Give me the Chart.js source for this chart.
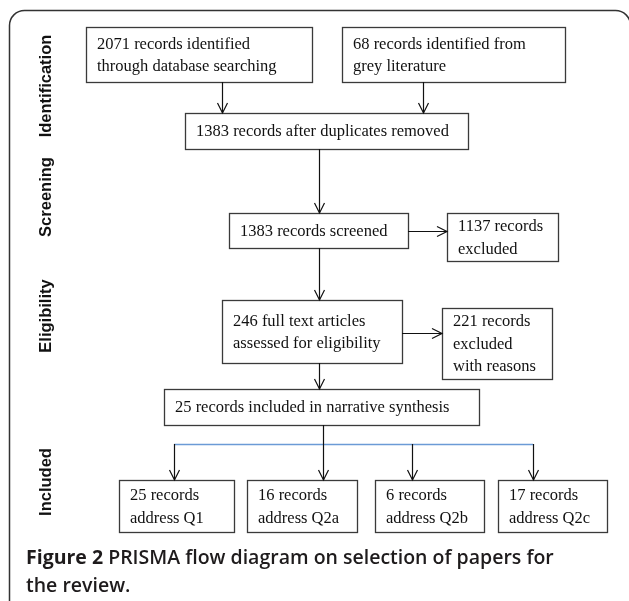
<!DOCTYPE html>
<html>
<head>
<meta charset="utf-8">
<script src="https://cdn.jsdelivr.net/npm/chart.js@4.4.1/dist/chart.umd.min.js"></script>
<style>
  html, body { margin: 0; padding: 0; background: #ffffff; }
  #wrap { width: 629px; height: 601px; position: relative; }
</style>
</head>
<body>
<div id="wrap"><canvas id="c" width="629" height="601"></canvas></div>
<script>
// ---- data ----
const counts = [2071, 68, 1383, 1383, 1137, 246, 221, 25, 25, 16, 6, 17];
const boxTexts = [
  ["{n} records identified", "through database searching"],
  ["{n} records identified from", "grey literature"],
  ["{n} records after duplicates removed"],
  ["{n} records screened"],
  ["{n} records", "excluded"],
  ["{n} full text articles", "assessed for eligibility"],
  ["{n} records", "excluded", "with reasons"],
  ["{n} records included in narrative synthesis"],
  ["{n} records", "address Q1"],
  ["{n} records", "address Q2a"],
  ["{n} records", "address Q2b"],
  ["{n} records", "address Q2c"]
];
const stageLabels = ["Identification", "Screening", "Eligibility", "Included"];
const captionBold = "Figure 2";
const captionLines = [" PRISMA flow diagram on selection of papers for", "the review."];

// ---- layout (diagram coordinates, in scale units) ----
const boxRects = [
  [86, 27, 312, 82],
  [342, 27, 565, 82],
  [185, 113, 468, 149],
  [229, 213, 408, 248],
  [447, 213, 558, 261],
  [222, 300, 402, 363],
  [442, 308, 552, 379],
  [164, 389, 479, 425],
  [119, 480, 234, 532],
  [247, 480, 357, 532],
  [375, 480, 484, 532],
  [498, 480, 607, 532]
];
const arrows = [
  [222, 82, 222, 113],
  [423, 82, 423, 113],
  [319, 149, 319, 213],
  [408, 231, 447, 231],
  [319, 248, 319, 300],
  [402, 333, 442, 333],
  [319, 363, 319, 389],
  [323, 425, 323, 480],
  [174, 444, 174, 480],
  [412, 444, 412, 480],
  [533, 444, 533, 480]
];
const branchLine = [174, 444, 533, 444];
const stageCenters = [[45, 86], [45, 197], [45, 316], [45, 482]];

const flowPlugin = {
  id: 'flow',
  afterDraw(chart) {
    const ctx = chart.ctx;
    const xs = chart.scales.x, ys = chart.scales.y;
    const X = v => xs.getPixelForValue(v);
    const Y = v => ys.getPixelForValue(v);
    ctx.save();

    // outer frame (rounded top corners)
    ctx.strokeStyle = '#333333';
    ctx.lineWidth = 1.5;
    const fl = X(9.5), ft = Y(10.5), fr = X(630.5), fb = Y(603), r = 15;
    ctx.beginPath();
    ctx.moveTo(fl, fb);
    ctx.lineTo(fl, ft + r);
    ctx.arcTo(fl, ft, fl + r, ft, r);
    ctx.lineTo(fr - r, ft);
    ctx.arcTo(fr, ft, fr, ft + r, r);
    ctx.lineTo(fr, fb);
    ctx.stroke();

    // stage labels
    ctx.fillStyle = '#111111';
    ctx.font = 'bold 16.5px "Liberation Sans", Arial, sans-serif';
    ctx.textAlign = 'center';
    ctx.textBaseline = 'middle';
    stageLabels.forEach((t, i) => {
      ctx.save();
      ctx.translate(X(stageCenters[i][0]), Y(stageCenters[i][1]));
      ctx.rotate(-Math.PI / 2);
      ctx.fillText(t, 0, 1);
      ctx.restore();
    });

    // boxes
    ctx.lineWidth = 1.3;
    ctx.strokeStyle = '#3a3a3a';
    ctx.font = '16.5px "Liberation Serif", "Times New Roman", serif';
    ctx.textAlign = 'left';
    ctx.textBaseline = 'middle';
    boxRects.forEach((b, i) => {
      const x1 = X(b[0]), y1 = Y(b[1]), x2 = X(b[2]), y2 = Y(b[3]);
      ctx.strokeRect(Math.round(x1) + 0.5, Math.round(y1) + 0.5, Math.round(x2 - x1), Math.round(y2 - y1));
      const lines = boxTexts[i].map(s => s.replace('{n}', counts[i]));
      const lh = 22.5;
      const cy = (y1 + y2) / 2;
      ctx.fillStyle = '#111111';
      lines.forEach((s, k) => {
        const y = cy + (k - (lines.length - 1) / 2) * lh + 1;
        ctx.fillText(s, x1 + 11, y);
      });
    });

    // blue branch line
    ctx.strokeStyle = '#6b9bd6';
    ctx.lineWidth = 1.3;
    ctx.beginPath();
    ctx.moveTo(X(branchLine[0]), Y(branchLine[1]) + 0.5);
    ctx.lineTo(X(branchLine[2]), Y(branchLine[3]) + 0.5);
    ctx.stroke();

    // arrows
    ctx.strokeStyle = '#111111';
    ctx.lineWidth = 1.2;
    arrows.forEach(a => {
      const x1 = X(a[0]) + 0.5, y1 = Y(a[1]), x2 = X(a[2]) + 0.5, y2 = Y(a[3]);
      let ax1 = x1, ay1 = y1, ax2 = x2, ay2 = y2;
      if (a[1] === a[3]) { ay1 = ay2 = Y(a[1]) + 0.5; ax1 = X(a[0]); ax2 = X(a[2]); }
      ctx.beginPath();
      ctx.moveTo(ax1, ay1);
      ctx.lineTo(ax2, ay2);
      ctx.stroke();
      const ang = Math.atan2(ay2 - ay1, ax2 - ax1);
      const L = 10, W = 5;
      const bx = ax2 - L * Math.cos(ang), by = ay2 - L * Math.sin(ang);
      const px = -Math.sin(ang) * W, py = Math.cos(ang) * W;
      ctx.beginPath();
      ctx.moveTo(bx + px, by + py);
      ctx.lineTo(ax2, ay2);
      ctx.lineTo(bx - px, by - py);
      ctx.stroke();
    });

    // caption
    ctx.fillStyle = '#1e1b1c';
    ctx.textBaseline = 'alphabetic';
    ctx.textAlign = 'left';
    ctx.font = 'bold 19.5px "Open Sans", "Noto Sans", sans-serif';
    const cx = X(26);
    ctx.fillText(captionBold, cx, Y(564));
    const w0 = ctx.measureText(captionBold).width;
    ctx.font = '600 19.5px "Open Sans", "Noto Sans", sans-serif';
    ctx.fillText(captionLines[0], cx + w0, Y(564));
    ctx.fillText(captionLines[1], cx, Y(592));
    ctx.restore();
  }
};

new Chart(document.getElementById('c'), {
  type: 'scatter',
  data: { datasets: [{ data: [], pointRadius: 0 }] },
  options: {
    responsive: false,
    animation: false,
    layout: { padding: 0 },
    plugins: { legend: { display: false }, tooltip: { enabled: false } },
    scales: {
      x: { type: 'linear', min: 0, max: 629, display: false },
      y: { type: 'linear', min: 0, max: 601, reverse: true, display: false }
    }
  },
  plugins: [flowPlugin]
});
</script>
</body>
</html>
